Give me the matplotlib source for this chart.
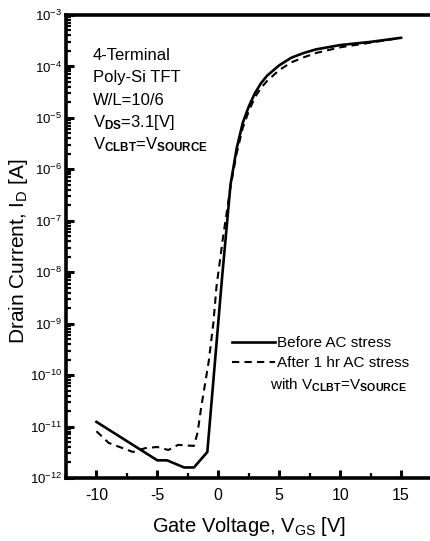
import matplotlib
matplotlib.use("Agg")
import matplotlib.pyplot as plt
from matplotlib.ticker import LogLocator, MultipleLocator
from matplotlib.lines import Line2D

plt.rcParams['font.family'] = ['Liberation Sans', 'DejaVu Sans']
plt.rcParams['mathtext.fontset'] = 'custom'
plt.rcParams['mathtext.rm'] = 'Liberation Sans'
plt.rcParams['mathtext.it'] = 'Liberation Sans'
plt.rcParams['mathtext.bf'] = 'Liberation Sans:bold'
plt.rcParams['axes.unicode_minus'] = False

# Before AC stress (solid)
vgs_before = [-10, -5, -4.2, -2.8, -2.0, -0.9, 0.3, 1.0, 1.5, 2.0, 2.5, 3.0, 3.5, 4.0,
              5.0, 6.0, 7.0, 8.0, 10, 12.5, 15]
id_before = [1.23e-11, 2.2e-12, 2.2e-12, 1.6e-12, 1.6e-12, 3.2e-12, 7.4e-9, 5.0e-7, 2.5e-6,
             7.9e-6, 1.66e-5, 3.0e-5, 4.7e-5, 6.6e-5, 1.05e-4, 1.48e-4, 1.82e-4, 2.14e-4,
             2.6e-4, 3.0e-4, 3.6e-4]

# After 1 hr AC stress (dashed)
vgs_after = [-10, -9, -7, -6, -5, -4.1, -3.3, -2.0, -1.7, -1.4, -0.8, -0.4, -0.15, 0.4, 1.0,
             1.5, 2.0, 2.5, 3.0, 3.5, 4.0, 5.0, 6.0, 7.0, 8.0, 10, 12.5, 15]
id_after = [8.1e-12, 4.8e-12, 3.2e-12, 3.8e-12, 4.0e-12, 3.5e-12, 4.4e-12, 4.2e-12, 7.6e-12,
            2.4e-11, 1.74e-10, 1.05e-9, 5.2e-9, 5.0e-8, 4.5e-7, 2.0e-6, 6.3e-6, 1.35e-5,
            2.5e-5, 3.8e-5, 5.2e-5, 8.5e-5, 1.2e-4, 1.5e-4, 1.82e-4, 2.35e-4, 2.9e-4, 3.6e-4]

info_lines = ["4-Terminal", "Poly-Si TFT", "W/L=10/6",
              r"V$_{\mathbf{DS}}$=3.1[V]", r"V$_{\mathbf{CLBT}}$=V$_{\mathbf{SOURCE}}$"]

fig = plt.figure(figsize=(4.30, 5.41), dpi=100)
ax = fig.add_axes([0.1535, 0.1165, 0.85, 0.8558])

ax.plot(vgs_before, id_before, color='black', lw=1.9, ls='-')
ax.plot(vgs_after, id_after, color='black', lw=1.5, ls=(0, (3.5, 2.5)))

ax.set_yscale('log')
ax.set_ylim(1e-12, 1e-3)
ax.set_xlim(-12.5, 17.5)

ax.xaxis.set_major_locator(MultipleLocator(5))
ax.xaxis.set_minor_locator(MultipleLocator(2.5))
ax.yaxis.set_major_locator(LogLocator(base=10, numticks=20))
ax.yaxis.set_minor_locator(LogLocator(base=10, subs=range(2, 10), numticks=20))

ax.tick_params(which='major', direction='in', length=6, width=2.2)
ax.tick_params(which='minor', direction='in', length=3.5, width=1.6)
ax.tick_params(axis='y', labelsize=9.5, pad=3)
ax.tick_params(axis='x', labelsize=11.5, pad=7)
for side in ['left', 'bottom', 'top']:
    ax.spines[side].set_linewidth(2.6)
ax.spines['right'].set_visible(False)

ax.set_xlabel(r"Gate Voltage, V$_{\mathrm{GS}}$ [V]", fontsize=14.5, labelpad=9)
ax.set_ylabel(r"Drain Current, I$_{\mathrm{D}}$ [A]", fontsize=15)
ax.yaxis.set_label_coords(-0.099, 0.49)

for i, line in enumerate(info_lines):
    ax.text(0.073, 0.913 - i * 0.0485, line, transform=ax.transAxes,
            fontsize=12, ha='left', va='center')

handles = [Line2D([], [], color='black', lw=1.9, ls='-'),
           Line2D([], [], color='black', lw=1.5, ls=(0, (3.5, 2.5)))]
ax.legend(handles, ["Before AC stress", "After 1 hr AC stress"], frameon=False,
          loc='center left', bbox_to_anchor=(0.454, 0.269), fontsize=11,
          handlelength=2.8, handletextpad=0.15, labelspacing=0.4, borderpad=0,
          borderaxespad=0)
ax.text(0.558, 0.201, r"with V$_{\mathbf{CLBT}}$=V$_{\mathbf{SOURCE}}$", transform=ax.transAxes,
        fontsize=11, ha='left', va='center')

fig.savefig("out.png", dpi=100)
